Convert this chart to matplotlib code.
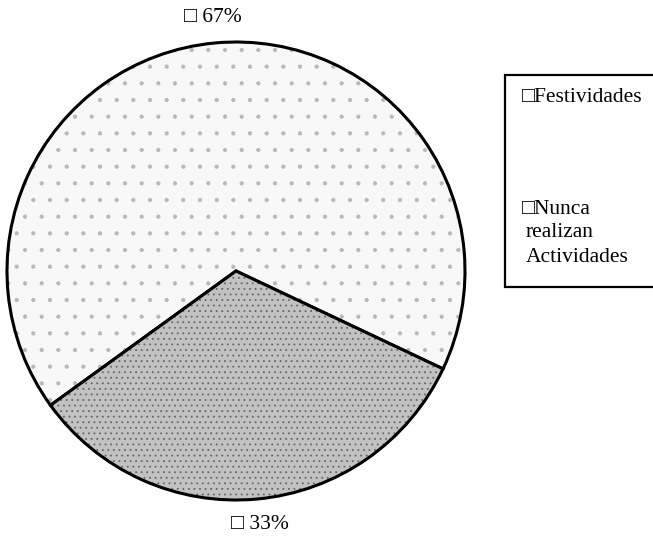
import matplotlib
matplotlib.use("Agg")
import matplotlib.pyplot as plt
from matplotlib.patches import Rectangle

categories = ["Festividades", "Nunca\nrealizan\nActividades"]
values = [67, 33]

plt.rcParams['font.family'] = ['Liberation Serif', 'DejaVu Serif', 'DejaVu Sans']
plt.rcParams['hatch.linewidth'] = 0.6

W, H = 653, 544
fig = plt.figure(figsize=(W / 100, H / 100), dpi=100)
fig.patch.set_facecolor('white')

cx, cy, r = 236, 273, 229
ax = fig.add_axes([(cx - r) / W, (cy - r) / H, 2 * r / W, 2 * r / H])

face = ['#f8f8f8', '#c2c2c2']
hatches = ['.', '...']
hatch_cols = [(0.72, 0.72, 0.72, 1), (0.4, 0.4, 0.4, 1)]
wedges, texts, autotexts = ax.pie(
    values, startangle=-25.3, counterclock=True, colors=face,
    autopct=lambda p: f'\u25a1 {p:.0f}%', pctdistance=1.11,
    wedgeprops=dict(edgecolor='black', linewidth=2.2),
    textprops=dict(fontsize=15.5, color='black'))
for w, h, hc in zip(wedges, hatches, hatch_cols):
    w.set_hatch(h)
    w._hatch_color = hc
ax.set_xlim(-1, 1)
ax.set_ylim(-1, 1)
ax.set_aspect('equal')
ax.axis('off')

# legend box (extends past right edge)
lx0, ly_top, ly_bot = 505, 75, 287
fig.add_artist(Rectangle((lx0 / W, 1 - ly_bot / H), (W + 20 - lx0) / W,
                         (ly_bot - ly_top) / H, transform=fig.transFigure,
                         facecolor='white', edgecolor='black', linewidth=1.6,
                         clip_on=False))
label_y = [97, 209]
for lab, yy in zip(categories, label_y):
    lines = lab.split('\n')
    fig.text(522 / W, 1 - yy / H, '\u25a1' + lines[0], fontsize=15.5,
             ha='left', va='center')
    for i, ln in enumerate(lines[1:], start=1):
        fig.text(526 / W, 1 - (yy + 24 * i) / H, ln, fontsize=15.5,
                 ha='left', va='center')

fig.savefig('out.png', dpi=100)
